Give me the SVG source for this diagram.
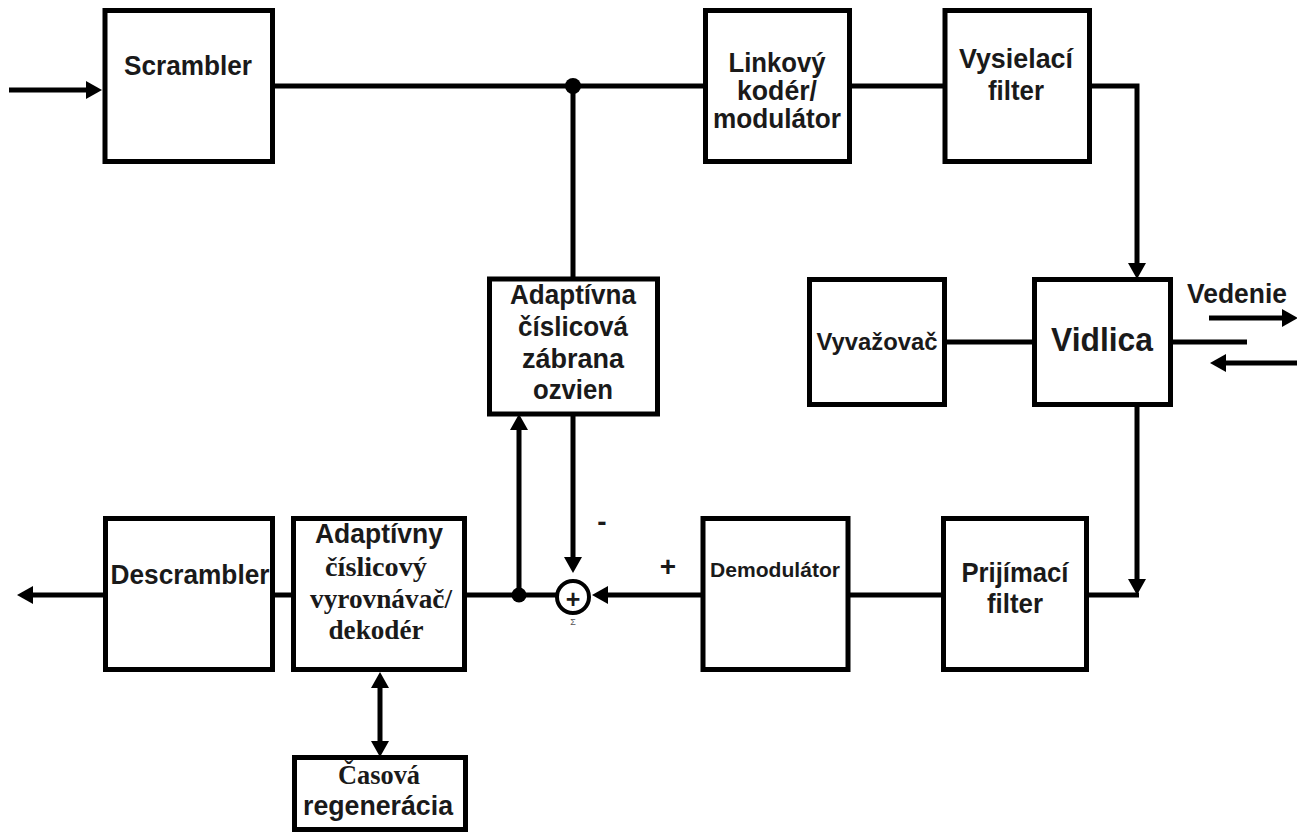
<svg xmlns="http://www.w3.org/2000/svg" width="1297" height="832" viewBox="0 0 1297 832">
<style>
.box{fill:#fff;stroke:#000;stroke-width:5}
.ln{fill:none;stroke:#000;stroke-width:5}
.ar{marker-end:url(#ah)}
.t{font-family:"Liberation Sans",Arial,sans-serif;font-weight:bold;fill:#1a1a1a;text-anchor:middle;font-size:28px}
.s{font-family:"Liberation Serif","DejaVu Serif","Times New Roman",serif;font-weight:bold;fill:#1a1a1a;text-anchor:middle;font-size:28px}
</style>
<defs>
<marker id="ah" markerUnits="userSpaceOnUse" viewBox="0 0 16 18" markerWidth="16" markerHeight="18" refX="4" refY="9" orient="auto-start-reverse">
<path d="M0,0 L16,9 L0,18 Z" fill="#000"/>
</marker>
</defs>
<rect width="1297" height="832" fill="#fff"/>

<g id="connectors">
<line class="ln ar" x1="9" y1="90" x2="90" y2="90"/>
<line class="ln" x1="275" y1="86" x2="705" y2="86"/>
<line class="ln" x1="573" y1="86" x2="573" y2="279"/>
<circle cx="573" cy="86" r="8" fill="#000"/>
<line class="ln" x1="850" y1="86" x2="945" y2="86"/>
<path class="ln ar" d="M1090,86 H1137 V267"/>
<line class="ln" x1="945" y1="342" x2="1034" y2="342"/>
<line class="ln" x1="1171" y1="342" x2="1247" y2="342"/>
<line class="ln ar" x1="1209" y1="318" x2="1286" y2="318"/>
<line class="ln ar" x1="1297" y1="363" x2="1222" y2="363"/>
<line class="ln ar" x1="1137" y1="405" x2="1137" y2="583"/>
<line class="ln" x1="1089" y1="595" x2="1139" y2="595"/>
<line class="ln" x1="943" y1="595" x2="849" y2="595"/>
<line class="ln ar" x1="703" y1="595" x2="604" y2="595"/>
<line class="ln ar" x1="573" y1="414" x2="573" y2="561"/>
<line class="ln" x1="465" y1="595" x2="557" y2="595"/>
<line class="ln ar" x1="519" y1="595" x2="519" y2="426"/>
<circle cx="519" cy="595" r="7.5" fill="#000"/>
<line class="ln" x1="294" y1="595" x2="272" y2="595"/>
<line class="ln ar" x1="105" y1="595" x2="29" y2="595"/>
<line class="ln" x1="380" y1="684" x2="380" y2="745" marker-start="url(#ah)" marker-end="url(#ah)"/>
</g>

<g id="sum">
<circle cx="573" cy="597" r="16" fill="#fff" stroke="#000" stroke-width="4"/>
<text class="t" x="573" y="608" style="font-size:25px">+</text>
<text x="573" y="625" font-family="Liberation Sans, Arial, sans-serif" font-size="9" fill="#555" text-anchor="middle">Σ</text>
<text class="t" x="602" y="531" style="font-size:28px">-</text>
<text class="t" x="668" y="576" style="font-size:28px">+</text>
</g>

<g id="scrambler">
<rect class="box" x="105" y="10.5" width="167.5" height="151"/>
<text class="t" x="188" y="75" textLength="128" lengthAdjust="spacingAndGlyphs">Scrambler</text>
</g>

<g id="linkovy">
<rect class="box" x="705.5" y="10.5" width="144" height="151"/>
<text class="t" x="777" y="72" textLength="97" lengthAdjust="spacingAndGlyphs">Linkový</text>
<text class="t" x="777" y="100" textLength="80" lengthAdjust="spacingAndGlyphs">kodér/</text>
<text class="t" x="777" y="128" textLength="128" lengthAdjust="spacingAndGlyphs">modulátor</text>
</g>

<g id="vysielaci">
<rect class="box" x="945" y="10.5" width="144.5" height="151"/>
<text class="t" x="1016" y="68" textLength="114" lengthAdjust="spacingAndGlyphs">Vysielací</text>
<text class="t" x="1016" y="100" textLength="56" lengthAdjust="spacingAndGlyphs">filter</text>
</g>

<g id="adaptivna">
<rect class="box" x="489.5" y="279" width="168" height="135"/>
<text class="t" x="573" y="304" textLength="126" lengthAdjust="spacingAndGlyphs">Adaptívna</text>
<text class="t" x="573" y="336" textLength="110" lengthAdjust="spacingAndGlyphs">číslicová</text>
<text class="t" x="573" y="368" textLength="102" lengthAdjust="spacingAndGlyphs">zábrana</text>
<text class="t" x="573" y="399" textLength="80" lengthAdjust="spacingAndGlyphs">ozvien</text>
</g>

<g id="vyvazovac">
<rect class="box" x="809.5" y="279.5" width="135" height="125"/>
<text class="t" x="877" y="350" style="font-size:23px" textLength="121" lengthAdjust="spacingAndGlyphs">Vyvažovač</text>
</g>

<g id="vidlica">
<rect class="box" x="1034.5" y="279.5" width="136" height="125"/>
<text class="t" x="1102" y="351" style="font-size:33px" textLength="102" lengthAdjust="spacingAndGlyphs">Vidlica</text>
</g>

<g id="vedenie">
<text class="t" x="1237" y="303" textLength="100" lengthAdjust="spacingAndGlyphs">Vedenie</text>
</g>

<g id="descrambler">
<rect class="box" x="105.5" y="518.5" width="167" height="151"/>
<text class="t" x="190" y="584" textLength="159" lengthAdjust="spacingAndGlyphs">Descrambler</text>
</g>

<g id="adaptivny">
<rect class="box" x="293.5" y="518.5" width="171" height="151"/>
<text class="t" x="379" y="543" style="font-size:27px" textLength="128" lengthAdjust="spacingAndGlyphs">Adaptívny</text>
<text class="s" x="376" y="576" style="font-size:27px" textLength="102" lengthAdjust="spacingAndGlyphs">číslicový</text>
<text class="s" x="381" y="608" textLength="142" lengthAdjust="spacingAndGlyphs">vyrovnávač/</text>
<text class="s" x="376" y="639" textLength="95" lengthAdjust="spacingAndGlyphs">dekodér</text>
</g>

<g id="casova">
<rect class="box" x="294.5" y="757.5" width="171" height="72"/>
<text class="s" x="379" y="784" textLength="82" lengthAdjust="spacingAndGlyphs">Časová</text>
<text class="t" x="378" y="815" textLength="150" lengthAdjust="spacingAndGlyphs">regenerácia</text>
</g>

<g id="demodulator">
<rect class="box" x="703" y="518.5" width="145" height="151"/>
<text class="t" x="775" y="577" style="font-size:21px" textLength="130" lengthAdjust="spacingAndGlyphs">Demodulátor</text>
</g>

<g id="prijimaci">
<rect class="box" x="943.5" y="518.5" width="143" height="151"/>
<text class="t" x="1015" y="582" textLength="107" lengthAdjust="spacingAndGlyphs">Prijímací</text>
<text class="t" x="1015" y="613" textLength="56" lengthAdjust="spacingAndGlyphs">filter</text>
</g>
</svg>
